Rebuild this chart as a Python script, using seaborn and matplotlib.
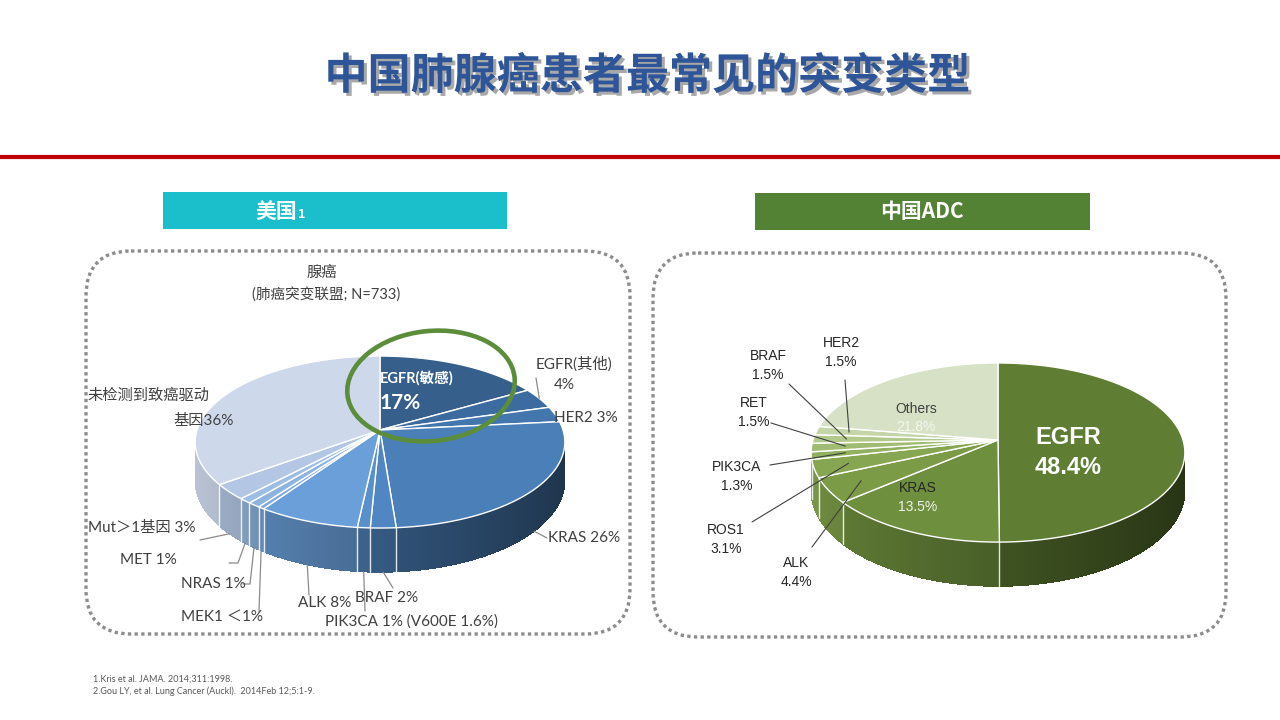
import numpy as np
import matplotlib
matplotlib.use("Agg")
import matplotlib.pyplot as plt
import matplotlib.transforms as mtransforms
import matplotlib.patheffects as pe
import matplotlib.colors as mcolors
from matplotlib.path import Path
from matplotlib.patches import FancyBboxPatch, Ellipse, Rectangle, Polygon
from matplotlib.collections import PolyCollection
import seaborn as sns

# ---------------- data ----------------
us_names = ["EGFR(敏感)", "EGFR(其他)", "HER2", "KRAS", "BRAF", "PIK3CA", "ALK",
            "MEK1", "NRAS", "MET", "Mut＞1基因", "未检测到致癌驱动基因"]
us_values = [17, 4, 3, 26, 2, 1, 8, 0.5, 1, 1, 3, 36]
us_value_text = ["17%", "4%", "3%", "26%", "2%", "1% (V600E 1.6%)", "8%",
                 "＜1%", "1%", "1%", "3%", "36%"]
us_colors = ["#365f8b", "#3c6c9f", "#4276ad", "#4a7fb8", "#5087c2", "#5a90ca",
             "#6a9fd9", "#7ea9dc", "#8db3df", "#9dbde2", "#b3c7e4", "#cdd9eb"]

cn_names = ["EGFR", "KRAS", "ALK", "ROS1", "PIK3CA", "RET", "BRAF", "HER2", "Others"]
cn_values = [48.4, 13.5, 4.4, 3.1, 1.3, 1.5, 1.5, 1.5, 21.8]
cn_colors = ["#5f7e33", "#6e8f3d", "#7b9b47", "#86a652", "#92b160", "#a0bc72",
             "#b1c98a", "#c4d6a8", "#d6e1c6"]

title = "中国肺腺癌患者最常见的突变类型"
us_header = "美国"
cn_header = "中国ADC"
us_subtitle = ["腺癌", "(肺癌突变联盟; N=733)"]
refs = ["1.Kris et al. JAMA. 2014;311:1998.",
        "2.Gou LY, et al. Lung Cancer (Auckl).  2014Feb 12;5:1-9."]

# ---------------- style ----------------
sns.set_theme(style="white")
plt.rcParams["font.family"] = ["Noto Sans CJK SC", "DejaVu Sans"]
LEFT_FONT = ["Lato", "Noto Sans CJK SC", "DejaVu Sans"]
RIGHT_FONT = ["Liberation Sans", "Noto Sans CJK SC", "DejaVu Sans"]


class Persp(mtransforms.Transform):
    """Maps the unit disk of a pie to a tilted disk seen in perspective (pixel units)."""
    input_dims = 2
    output_dims = 2
    is_separable = False
    has_inverse = False

    def __init__(self, cx, cy, rx, ry, k):
        super().__init__()
        self.cx, self.cy, self.rx, self.ry, self.k = cx, cy, rx, ry, k

    def transform_non_affine(self, values):
        a = np.asarray(values, dtype=float).reshape(-1, 2)
        d = 1.0 + self.k * a[:, 1]
        return np.column_stack([self.cx + self.rx * a[:, 0] / d,
                                self.cy - self.ry * a[:, 1] / d])

    def transform_path_non_affine(self, path):
        pts, codes = [], []
        for seg, code in path.iter_bezier():
            n = 2 if seg.degree <= 1 else 48
            p = seg(np.linspace(0, 1, n))
            if not pts:
                pts.append(p[0])
                codes.append(Path.MOVETO)
            pts.extend(p[1:])
            codes.extend([Path.LINETO] * (len(p) - 1))
        pts.append(pts[0])
        codes.append(Path.CLOSEPOLY)
        return Path(self.transform_non_affine(np.array(pts)), codes)


def pt(T, r, ang_deg):
    a = np.radians(ang_deg)
    return T.transform_non_affine([[r * np.cos(a), r * np.sin(a)]])[0]


def draw_pie3d(ax, values, colors, cx, cy, rx, ry, k, D):
    T = Persp(cx, cy, rx, ry, k)
    wedges, _ = ax.pie(values, colors=colors, startangle=90, counterclock=False,
                       wedgeprops=dict(edgecolor="white", linewidth=1.0))
    for w in wedges:
        w.set_transform(T + ax.transData)
        w.set_zorder(3)
    lo = 180 + np.degrees(np.arcsin(k))
    hi = 360 - np.degrees(np.arcsin(k))
    polys, fcs = [], []
    blines = []
    for w, c in zip(wedges, colors):
        rgb = np.array(mcolors.to_rgb(c))
        for shift in (-360, 0, 360):
            a0 = max(w.theta1 + shift, lo)
            a1 = min(w.theta2 + shift, hi)
            if a1 <= a0:
                continue
            ts = np.linspace(a0, a1, max(2, int((a1 - a0) / 0.5) + 2))
            tops = np.array([pt(T, 1, t) for t in ts])
            deps = D / (1 + k * np.sin(np.radians(ts)))
            bots = tops + np.column_stack([np.zeros_like(deps), deps])
            fm = np.clip(0.66 - 0.25 * np.cos(np.radians((a0 + a1) / 2)), 0, 1)
            ax.add_patch(Polygon(np.vstack([tops, bots[::-1]]), closed=True,
                                 facecolor=rgb * fm, edgecolor="none", zorder=1.9))
            for j in range(len(ts) - 1):
                polys.append([tops[j], tops[j + 1], bots[j + 1], bots[j]])
                tm = np.radians((ts[j] + ts[j + 1]) / 2)
                fcs.append(rgb * np.clip(0.66 - 0.25 * np.cos(tm), 0, 1))
            for edge in (w.theta1 + shift, w.theta2 + shift):
                if lo + 1 < edge < hi - 1:
                    blines.append(edge)
    pc = PolyCollection(polys, facecolors=fcs, edgecolors="none", linewidths=0,
                        antialiaseds=False, zorder=2)
    ax.add_collection(pc)
    for e in set(np.round(blines, 4)):
        p = pt(T, 1, e)
        d = D / (1 + k * np.sin(np.radians(e)))
        ax.plot([p[0], p[0]], [p[1], p[1] + d], color="white", lw=1.0, alpha=0.85, zorder=2.5)
    return wedges, T


fig = plt.figure(figsize=(12.8, 7.2), dpi=100)
ax = fig.add_axes([0, 0, 1, 1])

# ---------------- header ----------------
ax.text(647, 76, title, ha="center", va="center", fontsize=31, fontweight="bold",
        color="#2e5597", zorder=5,
        path_effects=[pe.withSimplePatchShadow(offset=(2.2, -2.2), shadow_rgbFace="#6f6f6f", alpha=0.6)])
ax.plot([0, 1280], [157, 157], color="#c00000", lw=3, solid_capstyle="butt", zorder=5)

ax.add_patch(Rectangle((163, 192), 344, 37, facecolor="#1bbecb", edgecolor="none", zorder=1))
ax.text(276, 211, us_header, ha="center", va="center", fontsize=15, fontweight="bold",
        color="white", zorder=5)
ax.text(298, 215, "1", ha="left", va="center", fontsize=9, fontweight="bold",
        color="white", zorder=5)
ax.add_patch(Rectangle((755, 193), 335, 37, facecolor="#548235", edgecolor="none", zorder=1))
ax.text(922, 212, cn_header, ha="center", va="center", fontsize=15, fontweight="bold",
        color="white", zorder=5)

for (x0, y0, x1, y1) in [(86, 251, 630, 634), (653, 253, 1226, 637)]:
    ax.add_patch(FancyBboxPatch((x0, y0), x1 - x0, y1 - y0,
                                boxstyle="round,pad=0,rounding_size=45",
                                fill=False, edgecolor="#8c8c8c", lw=2.4,
                                linestyle=(0, (1, 1)), zorder=1))

# ---------------- left pie (US) ----------------
us_w, Tl = draw_pie3d(ax, us_values, us_colors, cx=380, cy=430, rx=183, ry=84.3, k=0.14, D=38)

lc = "#404040"
lkw = dict(fontsize=11, color=lc, family=LEFT_FONT, zorder=5, va="center")
ax.text(322, 273, us_subtitle[0], ha="center", **lkw)
ax.text(326, 294, us_subtitle[1], ha="center", **dict(lkw, fontsize=10.5))

ax.text(380, 378, us_names[0], ha="left", va="center", fontsize=10.5, fontweight="bold",
        color="white", family=LEFT_FONT, zorder=5)
ax.text(380, 403, us_value_text[0], ha="left", va="center", fontsize=15, fontweight="bold",
        color="white", family=LEFT_FONT, zorder=5)

ax.text(536, 364, us_names[1], ha="left", **lkw)
ax.text(554, 385, us_value_text[1], ha="left", **lkw)
ax.text(554, 418, f"{us_names[2]} {us_value_text[2]}", ha="left", **lkw)
ax.text(548, 538, f"{us_names[3]} {us_value_text[3]}", ha="left", **lkw)
ax.text(355, 598, f"{us_names[4]} {us_value_text[4]}", ha="left", **lkw)
ax.text(325, 622, f"{us_names[5]} {us_value_text[5]}", ha="left", **lkw)
ax.text(298, 603, f"{us_names[6]} {us_value_text[6]}", ha="left", **lkw)
ax.text(181, 617, f"{us_names[7]} {us_value_text[7]}", ha="left", **lkw)
ax.text(181, 584, f"{us_names[8]} {us_value_text[8]}", ha="left", **lkw)
ax.text(120, 560, f"{us_names[9]} {us_value_text[9]}", ha="left", **lkw)
ax.text(88, 528, f"{us_names[10]} {us_value_text[10]}", ha="left", **lkw)
ax.text(88, 396, us_names[11][:8], ha="left", **lkw)
ax.text(173, 421, us_names[11][8:] + us_value_text[11], ha="left", **lkw)


def mid_angle(w):
    return (w.theta1 + w.theta2) / 2


def wall_bottom(T, ang, k, D):
    p = pt(T, 1, ang)
    return p + [0, D / (1 + k * np.sin(np.radians(ang)))]


# leader lines (label side points are layout, anchors come from wedges)
lead_l = {1: ("top", [(536, 378)]),
          3: ("bot", [(547, 538)]),
          4: ("bot", [(393, 588)]),
          5: ("bot", [(365, 611)]),
          6: ("bot", [(309, 595)]),
          7: ("bot", [(259, 612)]),
          8: ("bot", [(243, 584), (250, 584)]),
          9: ("bot", [(229, 563), (238, 563)]),
          10: ("bot", [(200, 540)])}
for i, (kind, pts_) in lead_l.items():
    a = mid_angle(us_w[i])
    anc = pt(Tl, 1, a) if kind == "top" else wall_bottom(Tl, a, 0.14, 38)
    xs = [p[0] for p in pts_] + [anc[0]]
    ys = [p[1] for p in pts_] + [anc[1]]
    ax.plot(xs, ys, color="#8a8a8a", lw=0.9, zorder=4)

ax.add_patch(Ellipse((431, 386), 168, 110, angle=-6, fill=False, edgecolor="#5b8d3b",
                     lw=3.3, zorder=6))

# ---------------- right pie (China ADC) ----------------
cn_w, Tr = draw_pie3d(ax, cn_values, cn_colors, cx=998, cy=440, rx=185, ry=87.8, k=0.14, D=38)

rkw = dict(fontsize=10, color="#262626", family=RIGHT_FONT, zorder=5, ha="center", va="center")
ax.text(1068, 438, cn_names[0], fontsize=17, fontweight="bold", color="white",
        family=RIGHT_FONT, zorder=5, ha="center", va="center")
ax.text(1068, 467, f"{cn_values[0]}%", fontsize=17, fontweight="bold", color="white",
        family=RIGHT_FONT, zorder=5, ha="center", va="center")
ax.text(918, 488, cn_names[1], **rkw)
ax.text(918, 507, f"{cn_values[1]}%", **dict(rkw, color="#eef2e6"))
ax.text(916, 409, cn_names[8], **dict(rkw, color="#404040"))
ax.text(916, 427, f"{cn_values[8]}%", **dict(rkw, color="#f4f6f0"))

out_pos = {2: (796, 563), 3: (726, 530), 4: (737, 467), 5: (754, 403), 6: (768, 356), 7: (841, 343)}
for i, (x, y) in out_pos.items():
    ax.text(x, y, cn_names[i], **rkw)
    ax.text(x, y + 19, f"{cn_values[i]}%", **rkw)

lead_r = {7: (845, 380), 6: (789, 384), 5: (771, 423), 4: (770, 465), 3: (752, 522), 2: (812, 547)}
for i, (x, y) in lead_r.items():
    anc = pt(Tr, 0.82, mid_angle(cn_w[i]))
    ax.plot([x, anc[0]], [y, anc[1]], color="#404040", lw=0.8, zorder=4)

# ---------------- references ----------------
ax.text(93, 679, refs[0], fontsize=6.5, color="#595959", family=LEFT_FONT, va="center", zorder=5)
ax.text(93, 691, refs[1], fontsize=6.5, color="#595959", family=LEFT_FONT, va="center", zorder=5)

ax.set_aspect("auto")
ax.set_xlim(0, 1280)
ax.set_ylim(720, 0)
ax.set_autoscale_on(False)
ax.axis("off")
sns.despine(ax=ax, left=True, bottom=True)

fig.savefig("out.png", dpi=100, facecolor="white")
